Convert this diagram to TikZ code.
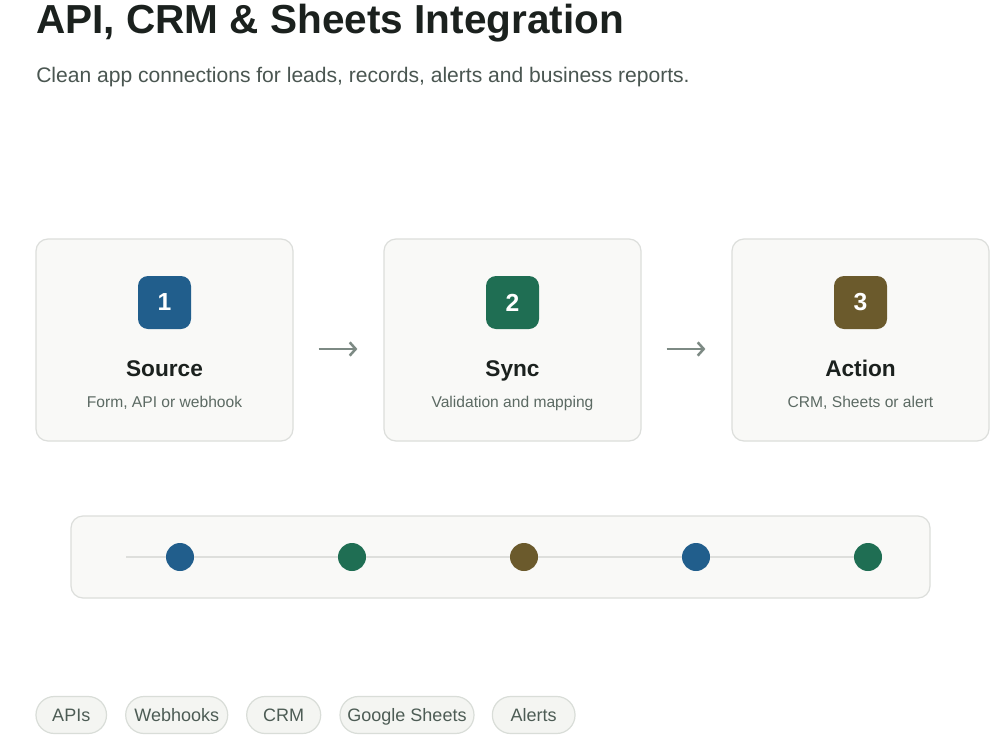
\documentclass[tikz,border=0pt]{standalone}
\usepackage{fontspec}
\setmainfont{Liberation Sans}
\usetikzlibrary{arrows.meta}
\definecolor{ink}{HTML}{1B211E}
\definecolor{subtitlegray}{HTML}{4A5651}
\definecolor{subgray}{HTML}{5C6A63}
\definecolor{cardfill}{HTML}{F9F9F7}
\definecolor{cardline}{HTML}{DCDEDB}
\definecolor{arrowgray}{HTML}{7D8A84}
\definecolor{cblue}{HTML}{215E8C}
\definecolor{cgreen}{HTML}{1F6E53}
\definecolor{cbrown}{HTML}{6B5A2C}
\definecolor{trackgray}{HTML}{DEDFDC}
\definecolor{tagfill}{HTML}{F4F5F2}
\definecolor{tagline}{HTML}{D9DDD8}
\definecolor{tagtext}{HTML}{4D5C55}
\begin{document}
\begin{tikzpicture}[x=0.75pt,y=-0.75pt,
  card/.style={draw=cardline, fill=cardfill, line width=0.9pt, rounded corners=9pt,
    minimum width=192.75pt, minimum height=151.5pt, inner sep=0pt},
  badge/.style={fill=#1, rounded corners=7.5pt, minimum size=39.75pt, inner sep=0pt,
    text=white, font=\bfseries\fontsize{18.5}{18}\selectfont},
  steptitle/.style={anchor=base, text=ink, inner sep=0pt,
    font=\bfseries\fontsize{17}{20}\selectfont},
  stepsub/.style={anchor=base, text=subgray, inner sep=0pt,
    font=\fontsize{11.7}{13}\selectfont},
  flow/.style={draw=arrowgray, line width=1.9pt,
    -{Straight Barb[length=4.5pt,width=10pt,line width=1.9pt]}},
  strip/.style={draw=cardline, fill=cardfill, line width=0.9pt, rounded corners=9pt,
    minimum width=644.25pt, minimum height=61.5pt, inner sep=0pt},
  dot/.style={circle, fill=#1, minimum size=21pt, inner sep=0pt},
  tag/.style={draw=tagline, fill=tagfill, line width=0.9pt, rounded corners=13.8pt,
    minimum height=27.75pt, text height=9.6pt, text depth=0pt, inner sep=0pt,
    text=tagtext, font=\fontsize{13.5}{15}\selectfont}
]
\useasboundingbox[fill=white] (0,0) rectangle (1000,750);

% title and subtitle
\node[anchor=base west, inner sep=0pt, text=ink, font=\bfseries\fontsize{30.4}{34}\selectfont]
  (title) at (36,33) {API, CRM \& Sheets Integration};
\node[anchor=base west, inner sep=0pt, text=subtitlegray, font=\fontsize{15.8}{18}\selectfont]
  (subtitle) at (36,82) {Clean app connections for leads, records, alerts and business reports.};

% step cards
\node[card] (c1) at (164.5,340) {};
\node[card] (c2) at (512.5,340) {};
\node[card] (c3) at (860.5,340) {};

\node[badge=cblue]  (b1) at (164.5,302.5) {1};
\node[badge=cgreen] (b2) at (512.5,302.5) {2};
\node[badge=cbrown] (b3) at (860.5,302.5) {3};

\node[steptitle] (t1) at (164.5,376) {Source};
\node[steptitle] (t2) at (512.5,376) {Sync};
\node[steptitle] (t3) at (860.5,376) {Action};

\node[stepsub] (s1) at (164.5,407) {Form, API or webhook};
\node[stepsub] (s2) at (512.5,407) {Validation and mapping};
\node[stepsub] (s3) at (860.5,407) {CRM, Sheets or alert};

\draw[flow, shorten <=18.75pt, shorten >=19.5pt]
  ([yshift=-6.75pt]c1.east) -- ([yshift=-6.75pt]c2.west);
\draw[flow, shorten <=18.75pt, shorten >=19.5pt]
  ([yshift=-6.75pt]c2.east) -- ([yshift=-6.75pt]c3.west);

% progress strip
\node[strip] (st) at (500.5,557) {};
\coordinate (ls) at (126,557);
\node[dot=cblue]  (d1) at (180,557) {};
\node[dot=cgreen] (d2) at (352,557) {};
\node[dot=cbrown] (d3) at (524,557) {};
\node[dot=cblue]  (d4) at (696,557) {};
\node[dot=cgreen] (d5) at (868,557) {};
\draw[trackgray, line width=1.6pt] (ls) -- (d1.west);
\draw[trackgray, line width=1.6pt] (d1.east) -- (d2.west);
\draw[trackgray, line width=1.6pt] (d2.east) -- (d3.west);
\draw[trackgray, line width=1.6pt] (d3.east) -- (d4.west);
\draw[trackgray, line width=1.6pt] (d4.east) -- (d5.west);

% tags
\node[tag, minimum width=52.9pt]  (g1) at (71.25,715) {APIs};
\node[tag, minimum width=76.5pt]  (g2) at (176.7,715) {Webhooks};
\node[tag, minimum width=55.5pt]  (g3) at (283.7,715) {CRM};
\node[tag, minimum width=100.5pt] (g4) at (407,715) {Google Sheets};
\node[tag, minimum width=62pt]    (g5) at (533.7,715) {Alerts};
\end{tikzpicture}
\end{document}
